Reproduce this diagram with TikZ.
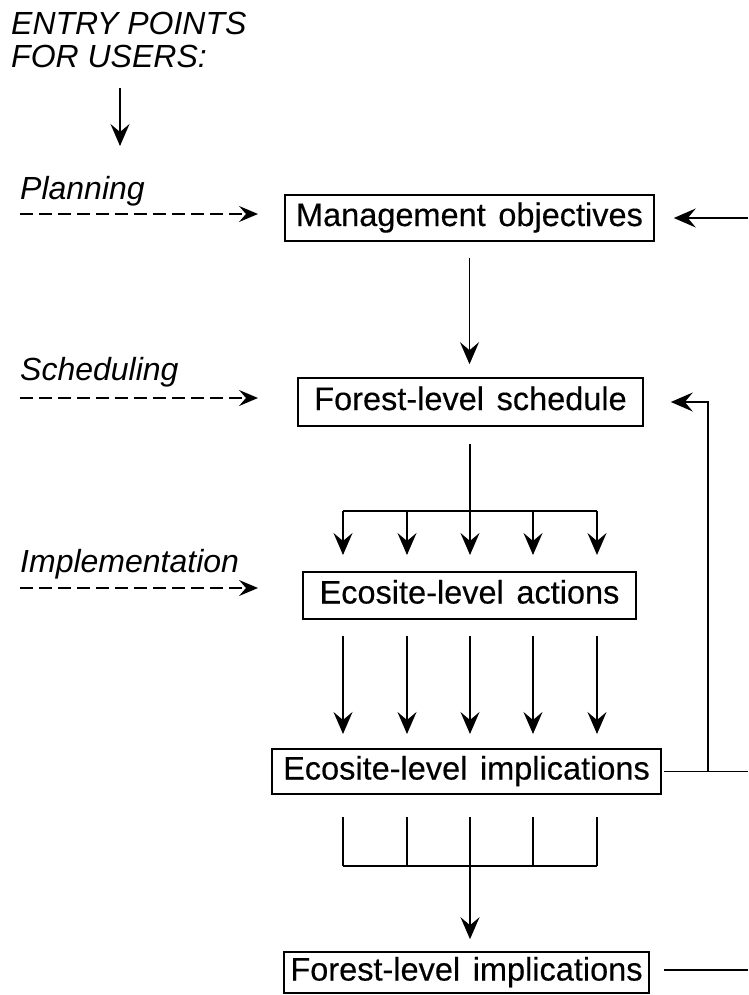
\documentclass[tikz,border=0pt]{standalone}
\usepackage{fontspec}
\setmainfont{Liberation Sans}
\newfontfamily\boxfont{Liberation Sans}[WordSpace=1.4, FakeBold=0.3]
\usetikzlibrary{arrows.meta}
\begin{document}
\begin{tikzpicture}[x=1pt,y=-1pt,
  box/.style={draw, line width=1.6pt, inner sep=0pt,
    font=\boxfont\fontsize{32.5}{38}\selectfont, text height=23pt, text depth=7pt},
  lab/.style={inner sep=0pt, anchor=base west,
    font=\fontsize{32}{38}\selectfont\itshape},
  conn/.style={line width=1.5pt},
  arr/.style={conn, -{Stealth[length=22pt,width=19pt,inset=8pt]}},
  dasharr/.style={conn, -{Stealth[length=19pt,width=16pt,inset=7pt]}, dash pattern=on 13pt off 6pt},
]
\useasboundingbox (0,0) rectangle (748,995);

% boxes of the chain
\node[box, minimum width=369pt, minimum height=46pt] (mgmt)  at (469.5,218)   {Management objectives};
\node[box, minimum width=345pt, minimum height=48pt] (sched) at (470.5,402)   {Forest-level schedule};
\node[box, minimum width=333pt, minimum height=47pt] (act)   at (469.5,595.5) {Ecosite-level actions};
\node[box, minimum width=389pt, minimum height=45pt] (eimp)  at (466.5,771.5) {Ecosite-level implications};
\node[box, minimum width=365pt, minimum height=41pt] (fimp)  at (466.5,972.5) {Forest-level implications};

% entry points
\node[lab] (entry1) at (11,35) {ENTRY POINTS};
\node[lab] (entry2) at (11,68) {FOR USERS:};
\coordinate (e0) at (120,88);
\coordinate (e1) at (120,146);
\draw[arr] (e0) -- (e1);

\node[lab] (plan)  at (20,200) {Planning};
\node[lab] (sch)   at (20,380) {Scheduling};
\node[lab] (impl)  at (20,572) {Implementation};
\coordinate (p0) at (20,214);
\coordinate (s0) at (20,398);
\coordinate (i0) at (20,588);
\draw[dasharr] (p0) -- (258,214);
\draw[dasharr] (s0) -- (258,398);
\draw[dasharr] (i0) -- (258,588);

% right edge
\coordinate (edge) at (748,0);
\coordinate (fb) at (708,0);
\draw[arr, shorten >=19pt] (edge |- mgmt.east) -- (mgmt.east);
\draw[conn, shorten <=2pt] (eimp.east) -- (edge |- eimp.east);
\draw[arr, shorten >=27pt] (fb |- eimp.east) |- (sched.east);
\draw[conn, shorten <=14pt] ([yshift=2.5pt]fimp.east) -- ([yshift=2.5pt]edge |- fimp.east);

% main flow
\draw[arr, shorten <=16pt, shorten >=13pt] (mgmt.south) -- (mgmt.south |- sched.north);

\coordinate (b1) at (470,511);
\draw[conn, shorten <=17pt] (b1 |- sched.south) -- (b1);
\draw[conn] (343,511) -- (597,511);
\foreach \x in {343,407,470,533,597} {
  \draw[arr, shorten >=17pt] (\x,511) -- (\x,572);
  \draw[arr, shorten <=17pt, shorten >=15pt] (\x,619) -- (\x,749);
  \draw[conn] (\x,817) -- (\x,866);
}
\coordinate (b2) at (470,866);
\draw[conn] (343,866) -- (597,866);
\draw[arr, shorten >=12pt] (b2) -- (b2 |- fimp.north);
\end{tikzpicture}
\end{document}
